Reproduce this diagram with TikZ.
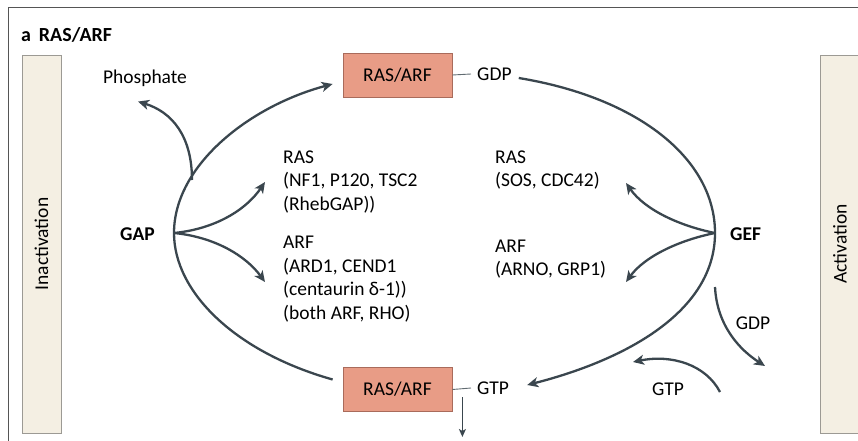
\documentclass[tikz,border=0pt]{standalone}
\usepackage{fontspec}
\setmainfont{Carlito}
\usetikzlibrary{arrows.meta,positioning}

\definecolor{arrowgrey}{HTML}{3A464E}
\definecolor{boxfill}{HTML}{E89C86}
\definecolor{boxline}{HTML}{A96B5B}
\definecolor{barfill}{HTML}{F4EFE3}
\definecolor{barline}{HTML}{9C9A94}
\definecolor{framegrey}{HTML}{555555}

\tikzset{
  flow/.style={draw=arrowgrey,line width=2.3pt,-{Stealth[length=11pt,width=10pt,inset=3pt]}},
  ggbox/.style={draw=boxline,line width=0.8pt,fill=boxfill,minimum width=109pt,
    minimum height=44pt,inner sep=0pt,font=\fontsize{19.5}{22}\selectfont},
  txt/.style={inner sep=0pt,align=left,font=\fontsize{19.5}{23.5}\selectfont},
  sidebar/.style={draw=barline,line width=0.8pt,fill=barfill},
  tie/.style={draw=arrowgrey!80,line width=0.9pt}
}

\begin{document}
\begin{tikzpicture}[x=1pt,y=-1pt]
\useasboundingbox (0,0) rectangle (858,441);
% frame
\draw[framegrey,line width=0.8pt] (858,7) -- (8,7) -- (8,441);
\node[txt,anchor=base west,font=\fontsize{20}{22}\selectfont\bfseries] (title) at (21,42) {a\, RAS/ARF};

% side bars
\draw[sidebar] (22,55) rectangle (61,433);
\node[txt,rotate=90] (inact) at (41.5,244) {Inactivation};
\draw[sidebar] (820,55) rectangle (870,433);
\node[txt,rotate=90] (act) at (840,244) {Activation};

% the two states
\node[ggbox] (gdpbox) at (397.5,75) {RAS/ARF};
\node[ggbox] (gtpbox) at (397.5,389.5) {RAS/ARF};
\node[txt,anchor=west] (gdp) at (477,74) {GDP};
\node[txt,anchor=west] (gtp) at (477,388) {GTP};
\draw[tie] (gdpbox.east) -- (gdp.west -| 471,0);
\draw[tie] (gtpbox.east) -- (gtp.west -| 471,0);

% enzymes
\node[txt,anchor=west,font=\fontsize{19.5}{22}\selectfont\bfseries] (gap) at (120,234) {GAP};
\node[txt,anchor=west,font=\fontsize{19.5}{22}\selectfont\bfseries] (gef) at (730,234) {GEF};
\coordinate (gapjoin) at (174,233);
\coordinate (gefjoin) at (715,233);

% examples
\node[txt,anchor=west] (rasgap) at (283,182) {RAS\\(NF1, P120, TSC2\\(RhebGAP))};
\node[txt,anchor=north west] (arfgap) at (283,236) {ARF\\(ARD1, CEND1\\(centaurin δ-1))\\(both ARF, RHO)};
\node[txt,anchor=west] (rasgef) at (495,170) {RAS\\(SOS, CDC42)};
\node[txt,anchor=west] (arfgef) at (495,259) {ARF\\(ARNO, GRP1)};

\node[txt] (phos) at (145,78) {Phosphate};
\node[txt] (gdpout) at (753,323) {GDP};
\node[txt] (gtpin) at (668,389) {GTP};
\coordinate[below left=15pt and 7pt of phos.south] (phosend);

% cycle
\draw[flow] ([xshift=-10pt,yshift=10pt]gtpbox.west) .. controls (235,352) and (174,292) .. (gapjoin)
  .. controls (174,165) and (250,106) .. ([xshift=-10pt,yshift=-9pt]gdpbox.west);
\draw[flow] ([xshift=7pt,yshift=-4pt]gdp.east) .. controls (640,98) and (715,160) .. (gefjoin)
  .. controls (715,312) and (625,360) .. ([xshift=18pt,yshift=3pt]gtp.east);

% branches
\draw[flow] (192,180) .. controls (192,136) and (172,112) .. (phosend);
\draw[flow] (gapjoin) .. controls (215,229) and (246,210) .. ([xshift=-18pt]rasgap.west);
\draw[flow] (gapjoin) .. controls (215,237) and (246,256) .. ([xshift=-18pt]arfgap.west |- 0,282);
\draw[flow] (gefjoin) .. controls (680,226) and (645,210) .. ([xshift=131pt,yshift=-13pt]rasgef.west);
\draw[flow] (gefjoin) .. controls (680,240) and (645,256) .. ([xshift=131pt,yshift=-23pt]arfgef.west);
\draw[flow] (715,287) .. controls (717,326) and (740,350) .. (765,366);
\draw[flow] (720,392) .. controls (706,365) and (672,354) .. (633,362);
\draw[draw=arrowgrey,line width=1.6pt,-{Stealth[length=8pt,width=7pt,inset=2pt]}] ([xshift=10pt,yshift=-7.5pt]gtpbox.east) -- ++(0,40);
\end{tikzpicture}
\end{document}
